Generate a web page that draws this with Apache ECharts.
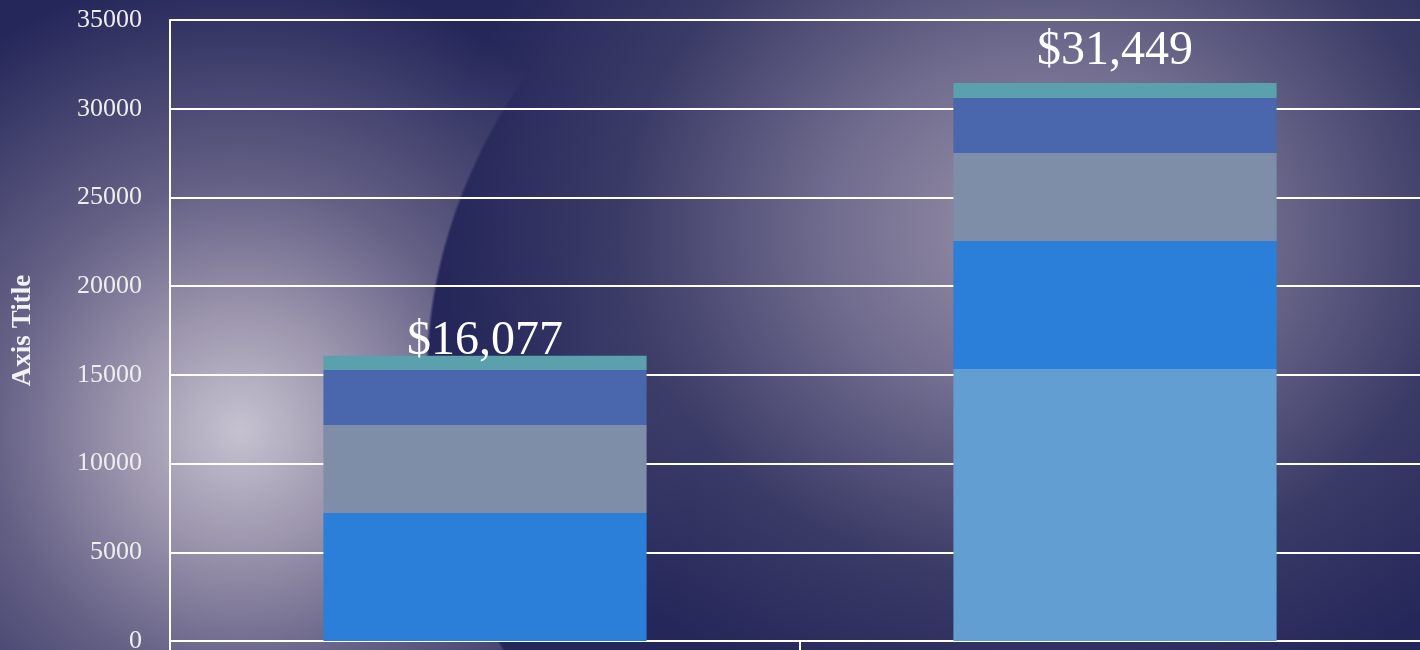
<!DOCTYPE html>
<html lang="en">
<head>
    <meta charset="UTF-8">
    <title>Stacked totals</title>
    <script type="text/javascript" src="https://cdn.jsdelivr.net/npm/echarts@6/dist/echarts.min.js"></script>
    <style>
        html, body { margin: 0; padding: 0; }
        #charts {
            width: 1420px;
            height: 650px;
            background:
                radial-gradient(ellipse 600px 500px at 1040px 230px, rgba(160,152,175,0.95) 0%, rgba(132,126,156,0.8) 35%, rgba(80,78,115,0.5) 70%, rgba(37,39,90,0) 100%),
                radial-gradient(ellipse 820px 640px at 1245px 380px, rgba(37,39,90,0) 0%, rgba(37,39,90,0) 55%, rgba(37,39,90,1) 84%, rgba(37,39,90,1) 99.6%, rgba(37,39,90,0) 100%),
                radial-gradient(circle at 240px 430px, rgba(198,194,208,1) 0px, rgba(165,158,180,0.95) 110px, rgba(110,105,140,0.85) 250px, rgba(37,39,90,0) 460px),
                #25275a;
        }
    </style>
</head>
<body>
<div id="charts"></div>

<script>
    // values
    var categories = ["Category 1", "Category 2"]
    var seriesNames = ["Series 1", "Series 2", "Series 3", "Series 4", "Series 5"]
    var s1 = [0, 15333]
    var s2 = [7215, 7215]
    var s3 = [4961, 4960]
    var s4 = [3100, 3101]
    var s5 = [801, 840]
    var colors = ["#629ed1", "#2b7fd8", "#7f8ea8", "#4a66ad", "#5aa1ad"]
    var yTicks = [0, 5000, 10000, 15000, 20000, 25000, 30000, 35000]

    var allSeries = [s1, s2, s3, s4, s5]
    var totals = categories.map(function (c, i) {
        return allSeries.reduce(function (sum, s) { return sum + s[i] }, 0)
    })
    // the total labels sit at different heights above each bar
    var labelGap = [-10, 8]

    var serif = "'Liberation Serif', 'DejaVu Serif', serif"

    var series = allSeries.map(function (vals, k) {
        var item = {
            name: seriesNames[k],
            type: "bar",
            stack: "total",
            barWidth: "51.3%",
            itemStyle: {color: colors[k]},
            data: vals.slice()
        }
        if (k == allSeries.length - 1) {
            item.data = vals.map(function (v, i) {
                return {
                    value: v,
                    label: {
                        show: true,
                        position: "top",
                        distance: labelGap[i],
                        color: "#ffffff",
                        fontFamily: serif,
                        fontSize: 48,
                        formatter: function () {
                            return "$" + totals[i].toLocaleString("en-US")
                        }
                    }
                }
            })
        }
        return item
    })

    var chart = echarts.init(document.getElementById("charts"), null, {renderer: "canvas"})
    chart.setOption({
        backgroundColor: "transparent",
        animation: false,
        grid: {left: 170, top: 20, bottom: 9, width: 1260, outerBoundsMode: "none"},
        xAxis: {
            type: "category",
            data: categories,
            axisLine: {lineStyle: {color: "#ffffff", width: 2}},
            axisTick: {show: true, length: 10, lineStyle: {color: "#ffffff", width: 2}},
            axisLabel: {show: false}
        },
        yAxis: {
            type: "value",
            min: yTicks[0],
            max: yTicks[yTicks.length - 1],
            interval: yTicks[1] - yTicks[0],
            name: "Axis Title",
            nameLocation: "middle",
            nameRotate: 90,
            nameGap: 133,
            nameTextStyle: {color: "#f2f2f2", fontFamily: serif, fontSize: 27, fontWeight: "bold"},
            axisLine: {show: true, lineStyle: {color: "#ffffff", width: 2}},
            axisTick: {show: false},
            axisLabel: {
                color: "#eeeeee", fontFamily: serif, fontSize: 26, margin: 28,
                formatter: function (v) { return String(v) }
            },
            splitLine: {lineStyle: {color: "#ffffff", width: 2}}
        },
        series: series
    })
</script>
</body>
</html>
